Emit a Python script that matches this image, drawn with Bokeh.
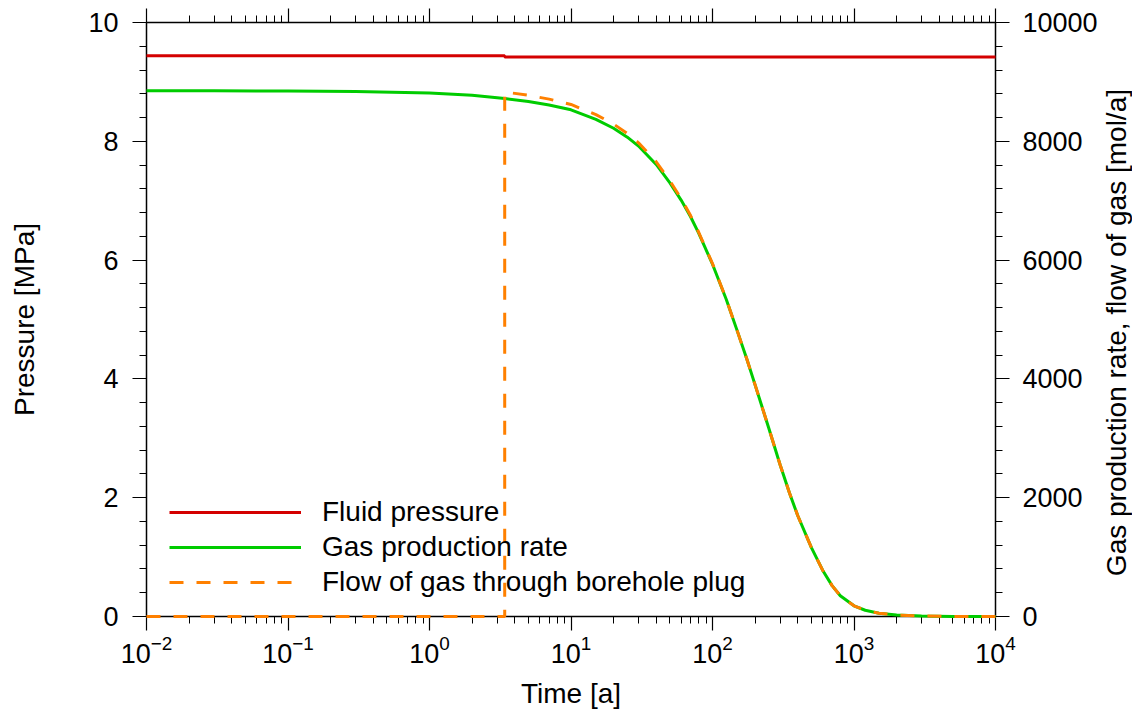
from bokeh.plotting import figure
from bokeh.layouts import row
from bokeh.models import (Range1d, LinearAxis, LogAxis, Legend, LegendItem,
                          FixedTicker, LogTicker, CustomJSTickFormatter, Div)
from bokeh.embed import file_html
from bokeh.resources import INLINE

# ---------------- data ----------------
pressure_time = [0.01, 3.4, 3.4, 10000]
fluid_pressure = [9.44, 9.44, 9.42, 9.42]   # MPa

gas_time = [0.01, 0.03, 0.1, 0.3, 1, 2, 3.4, 5, 7, 10, 15, 20, 25, 30, 40, 50,
            60, 70, 80, 100, 125, 150, 175, 200, 250, 300, 350, 400, 500, 600,
            700, 800, 1000, 1200, 1500, 2000, 3000, 5000, 10000]
gas_rate = [8850, 8849, 8846, 8838, 8815, 8775, 8720, 8670, 8610, 8530, 8370,
            8220, 8070, 7920, 7610, 7300, 7010, 6730, 6450, 5930, 5340, 4800,
            4330, 3900, 3170, 2560, 2080, 1700, 1160, 780, 520, 350, 180, 105,
            55, 25, 8, 2, 0]   # mol/a

plug_time = [0.01, 3.4, 3.4, 5, 7, 10, 15, 20, 25, 30, 40, 50, 60, 70, 80, 100,
             125, 150, 175, 200, 250, 300, 350, 400, 500, 600, 700, 800, 1000,
             1200, 1500, 2000, 3000, 5000, 10000]
plug_flow = [0, 0, 8830, 8775, 8710, 8620, 8450, 8290, 8130, 7975, 7655, 7335,
             7035, 6750, 6465, 5940, 5345, 4800, 4330, 3900, 3170, 2560, 2080,
             1700, 1160, 780, 520, 350, 180, 105, 55, 25, 8, 2, 0]   # mol/a

pressure_ticks = [0, 2, 4, 6, 8, 10]
gas_ticks = [0, 2000, 4000, 6000, 8000, 10000]

labels = ["Fluid pressure", "Gas production rate",
          "Flow of gas through borehole plug"]
colors = ["#d40000", "#00cc00", "#ff8000"]
right_title = "Gas production rate, flow of gas [mol/a]"

FONT = "Liberation Sans"

p = figure(width=1100, height=711, x_axis_type="log",
           x_range=Range1d(0.01, 10000), y_range=Range1d(0, 10),
           output_backend="svg", toolbar_location=None,
           min_border_left=146, min_border_right=103,
           min_border_top=22, min_border_bottom=92)
p.extra_y_ranges = {"gas": Range1d(0, 10000)}
p.grid.visible = False
p.outline_line_color = None
p.background_fill_color = "white"
p.border_fill_color = "white"


def style_axis(ax):
    ax.axis_line_color = "black"
    ax.axis_line_width = 1.5
    ax.major_tick_line_color = "black"
    ax.minor_tick_line_color = "black"
    ax.major_tick_line_width = 1.2
    ax.minor_tick_line_width = 1
    ax.major_tick_in = 0
    ax.major_tick_out = 14
    ax.minor_tick_in = 0
    ax.minor_tick_out = 7
    ax.major_label_text_font = FONT
    ax.major_label_text_font_size = "27px"
    ax.major_label_text_color = "black"
    ax.axis_label_text_font = FONT
    ax.axis_label_text_font_size = "28px"
    ax.axis_label_text_font_style = "normal"
    ax.axis_label_text_color = "black"


# bottom x axis
xa = p.xaxis[0]
xa.ticker = LogTicker(desired_num_ticks=7, num_minor_ticks=10)
xa.axis_label = "Time [a]"
style_axis(xa)
xa.major_label_standoff = 4
xa.axis_label_standoff = 12

# left y axis
ya = p.yaxis[0]
ya.ticker = FixedTicker(ticks=pressure_ticks,
                        minor_ticks=[i * 0.4 for i in range(26)])
ya.axis_label = "Pressure [MPa]"
style_axis(ya)
ya.major_label_standoff = 14
ya.axis_label_standoff = 45

# right y axis
ra = LinearAxis(y_range_name="gas")
ra.ticker = FixedTicker(ticks=gas_ticks,
                        minor_ticks=[i * 400 for i in range(26)])
style_axis(ra)
ra.major_label_standoff = 13
p.add_layout(ra, "right")

# top x axis (ticks only, no labels)
ta = LogAxis()
ta.ticker = LogTicker(desired_num_ticks=7, num_minor_ticks=10)
style_axis(ta)
ta.formatter = CustomJSTickFormatter(code="return ''")
ta.major_label_standoff = 0
p.add_layout(ta, "above")

# data lines
r_red = p.line(pressure_time, fluid_pressure, color=colors[0], line_width=3)
r_green = p.line(gas_time, gas_rate, color=colors[1], line_width=3,
                 y_range_name="gas")
r_orange = p.line(plug_time, plug_flow, color=colors[2], line_width=3,
                  line_dash="14 13", y_range_name="gas")
for r in (r_red, r_green, r_orange):
    r.level = "overlay"

legend = Legend(items=[LegendItem(label=labels[0], renderers=[r_red]),
                       LegendItem(label=labels[1], renderers=[r_green]),
                       LegendItem(label=labels[2], renderers=[r_orange])],
                location=(23, 18))
legend.border_line_color = None
legend.background_fill_alpha = 0
legend.padding = 0
legend.margin = 0
legend.spacing = 3
legend.glyph_width = 132
legend.glyph_height = 30
legend.label_height = 30
legend.label_standoff = 21
legend.label_text_font = FONT
legend.label_text_font_size = "28px"
legend.label_text_color = "black"
p.add_layout(legend, "center")

# right-hand axis title, reading bottom-to-top
title_html = (
    '<div style="width:34px;height:597px;margin-top:34px;display:flex;'
    'align-items:center;justify-content:center;">'
    '<span style="writing-mode:vertical-rl;transform:rotate(180deg);'
    "white-space:nowrap;font-family:'Liberation Sans';font-size:28px;"
    'line-height:32px;color:#000;">' + right_title + '</span></div>'
)
right_div = Div(text=title_html, width=40, height=711, margin=0)

layout = row(p, right_div, spacing=0)

open("out.html", "w").write(file_html(layout, INLINE))
